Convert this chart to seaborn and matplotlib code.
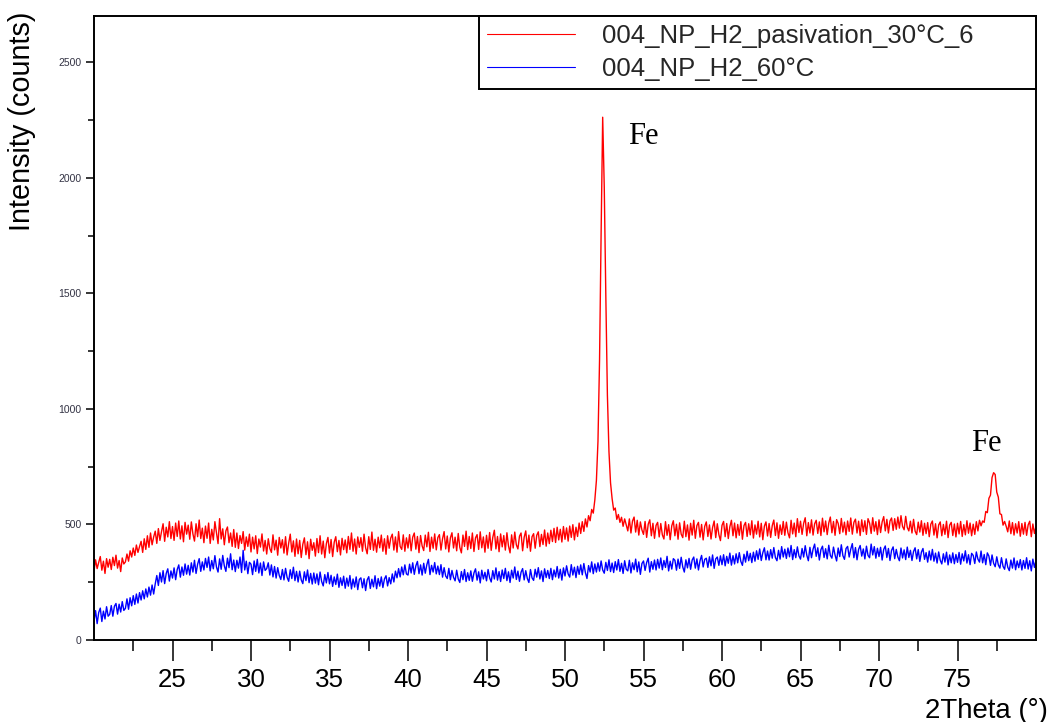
import numpy as np
import matplotlib
matplotlib.use("Agg")
import matplotlib.pyplot as plt
import seaborn as sns

# ---------------- data ----------------
two_theta_start = 20.0
two_theta_step = 0.1

red_label = "004_NP_H2_pasivation_30°C_6"
blue_label = "004_NP_H2_60°C"

red_counts = [
    298, 347, 309, 336, 361, 302, 341, 288, 352, 315,
    349, 305, 358, 322, 367, 311, 344, 296, 355, 329,
    338, 372, 341, 386, 359, 398, 366, 411, 379, 404,
    427, 379, 438, 392, 451, 401, 463, 412, 446, 471,
    418, 482, 431, 469, 503, 427, 488, 446, 512, 439,
    491, 431, 506, 448, 515, 437, 494, 425, 509, 458,
    497, 436, 511, 459, 428, 503, 447, 519, 439, 484,
    421, 493, 440, 506, 418, 479, 433, 512, 466, 417,
    525, 437, 481, 412, 472, 489, 421, 463, 405, 478,
    401, 463, 396, 452, 418, 469, 389, 446, 405, 458,
    381, 445, 394, 451, 374, 437, 402, 459, 385, 431,
    372, 438, 396, 379, 455, 390, 432, 367, 444, 398,
    434, 376, 447, 368, 419, 458, 381, 429, 362, 437,
    373, 431, 357, 414, 442, 369, 425, 352, 436, 388,
    421, 363, 439, 378, 451, 372, 428, 356, 417, 444,
    376, 435, 361, 423, 447, 382, 431, 368, 440, 391,
    433, 377, 448, 392, 463, 384, 437, 372, 446, 401,
    443, 384, 458, 399, 373, 447, 392, 467, 388, 436,
    380, 445, 399, 454, 384, 438, 371, 451, 397, 441,
    458, 389, 446, 380, 469, 405, 392, 455, 384, 442,
    398, 456, 386, 445, 463, 393, 448, 378, 452, 407,
    387, 454, 403, 466, 383, 445, 397, 459, 390, 443,
    456, 389, 438, 469, 394, 450, 381, 442, 464, 398,
    445, 386, 461, 401, 377, 454, 405, 471, 391, 448,
    396, 463, 383, 442, 456, 392, 468, 399, 446, 380,
    453, 397, 465, 388, 444, 475, 394, 448, 382, 459,
    403, 452, 389, 464, 407, 377, 455, 398, 467, 412,
    394, 449, 463, 386, 445, 472, 399, 454, 384, 447,
    460, 397, 453, 468, 404, 457, 413, 476, 406, 463,
    417, 475, 426, 483, 422, 488, 433, 479, 424, 491,
    436, 485, 428, 493, 444, 499, 433, 488, 448, 506,
    461, 512, 470, 524, 489, 538, 516, 565, 549, 606,
    690, 860, 1210, 1760, 2262, 1960, 1490, 1060, 815, 680,
    612, 562, 571, 522, 543, 509, 531, 492, 524, 498,
    472, 524, 463, 515, 532, 467, 518, 454, 511, 476,
    457, 513, 444, 501, 520, 451, 505, 440, 496, 509,
    446, 504, 455, 437, 512, 453, 499, 434, 494, 516,
    451, 501, 436, 507, 458, 443, 514, 447, 498, 432,
    505, 454, 518, 440, 495, 509, 445, 500, 433, 492,
    511, 448, 498, 437, 487, 515, 443, 503, 456, 430,
    496, 513, 447, 504, 439, 490, 518, 451, 506, 442,
    500, 453, 512, 436, 495, 509, 448, 503, 455, 516,
    441, 498, 458, 514, 446, 505, 434, 493, 511, 450,
    504, 444, 495, 519, 452, 507, 440, 498, 457, 513,
    453, 510, 464, 442, 518, 459, 506, 447, 525, 465,
    514, 457, 505, 529, 451, 508, 463, 520, 454, 503,
    518, 461, 511, 452, 527, 468, 515, 456, 506, 532,
    464, 513, 453, 521, 504, 460, 526, 467, 510, 455,
    515, 470, 528, 458, 509, 523, 463, 514, 452, 520,
    469, 516, 457, 525, 506, 461, 529, 471, 512, 456,
    520, 465, 511, 534, 472, 522, 463, 515, 528, 474,
    525, 479, 532, 484, 538, 491, 477, 535, 487, 472,
    514, 463, 522, 471, 456, 510, 467, 516, 453, 505,
    460, 508, 447, 501, 515, 454, 503, 442, 498, 511,
    451, 500, 457, 514, 443, 497, 509, 452, 502, 446,
    505, 459, 513, 448, 499, 455, 516, 462, 506, 451,
    501, 457, 512, 472, 518, 494, 515, 509, 556, 551,
    613, 627, 703, 724, 716, 640, 618, 546, 543, 497,
    513, 492, 468, 515, 460, 508, 454, 503, 463, 512,
    449, 504, 458, 509, 453, 498, 514, 447, 502, 461,
    492,
]

blue_counts = [
    82, 127, 71, 119, 138, 80, 125, 91, 144, 103,
    111, 149, 103, 146, 158, 112, 155, 121, 166, 128,
    137, 178, 133, 183, 148, 192, 154, 199, 160, 205,
    173, 213, 178, 221, 186, 229, 194, 238, 199, 243,
    279, 236, 291, 251, 300, 244, 288, 308, 255, 299,
    268, 312, 261, 305, 325, 272, 316, 280, 329, 285,
    323, 281, 334, 294, 345, 288, 328, 352, 297, 338,
    303, 353, 314, 359, 299, 344, 308, 365, 316, 294,
    351, 306, 366, 321, 297, 354, 313, 373, 304, 346,
    296, 345, 311, 359, 292, 388, 303, 341, 287, 336,
    328, 283, 342, 297, 349, 290, 333, 279, 338, 301,
    309, 334, 281, 325, 273, 318, 268, 313, 279, 262,
    305, 260, 310, 271, 254, 304, 266, 315, 257, 297,
    251, 298, 260, 244, 295, 257, 303, 248, 288, 242,
    290, 246, 286, 239, 294, 253, 234, 283, 247, 292,
    243, 280, 232, 273, 240, 285, 228, 269, 236, 276,
    224, 268, 233, 279, 221, 264, 229, 273, 218, 262,
    269, 226, 265, 214, 260, 274, 223, 263, 230, 278,
    222, 266, 233, 273, 227, 264, 278, 234, 270, 243,
    286, 251, 298, 269, 309, 273, 316, 282, 325, 286,
    281, 328, 290, 334, 284, 321, 340, 287, 325, 281,
    332, 289, 326, 349, 283, 323, 294, 335, 286, 320,
    283, 326, 272, 313, 277, 266, 310, 261, 301, 271,
    256, 302, 264, 249, 296, 261, 305, 253, 291, 258,
    299, 254, 290, 308, 259, 295, 247, 302, 264, 293,
    256, 305, 269, 251, 300, 264, 312, 259, 296, 253,
    303, 266, 310, 257, 295, 249, 302, 268, 316, 262,
    298, 254, 293, 309, 260, 300, 266, 249, 305, 269,
    258, 306, 272, 313, 264, 299, 253, 308, 270, 301,
    266, 310, 261, 303, 273, 318, 268, 306, 259, 312,
    277, 321, 286, 272, 326, 281, 315, 270, 319, 284,
    325, 282, 331, 291, 266, 322, 294, 338, 287, 329,
    294, 334, 298, 342, 303, 289, 336, 301, 347, 296,
    333, 292, 339, 303, 348, 297, 332, 288, 343, 306,
    299, 345, 290, 334, 304, 350, 295, 338, 284, 331,
    342, 301, 335, 354, 294, 339, 306, 346, 303, 349,
    311, 355, 304, 344, 314, 362, 299, 341, 307, 352,
    345, 302, 350, 310, 358, 316, 294, 347, 312, 353,
    306, 346, 359, 311, 351, 303, 343, 366, 316, 349,
    354, 314, 360, 321, 368, 310, 351, 359, 323, 364,
    326, 369, 321, 362, 332, 376, 324, 365, 329, 373,
    334, 378, 340, 323, 371, 337, 384, 343, 375, 335,
    380, 341, 386, 349, 394, 344, 378, 399, 347, 385,
    346, 391, 354, 400, 357, 343, 388, 350, 404, 359,
    393, 353, 398, 360, 409, 348, 391, 356, 403, 364,
    350, 396, 359, 408, 367, 343, 401, 356, 393, 415,
    362, 399, 346, 391, 406, 357, 395, 351, 410, 366,
    354, 402, 368, 342, 398, 361, 412, 365, 349, 396,
    405, 359, 393, 417, 356, 400, 347, 392, 409, 363,
    394, 351, 406, 366, 356, 415, 368, 404, 354, 397,
    361, 401, 346, 392, 407, 357, 396, 344, 388, 403,
    352, 392, 359, 343, 398, 355, 390, 348, 402, 357,
    388, 344, 383, 399, 351, 391, 340, 380, 396, 349,
    378, 337, 385, 346, 392, 341, 376, 333, 381, 345,
    329, 373, 337, 380, 325, 368, 334, 377, 330, 370,
    336, 379, 328, 373, 342, 386, 333, 369, 326, 375,
    366, 331, 381, 350, 337, 385, 334, 370, 326, 377,
    363, 323, 368, 332, 317, 360, 325, 311, 356, 319,
    306, 351, 315, 300, 346, 311, 355, 304, 342, 313,
    348, 303, 344, 310, 356, 307, 343, 299, 350, 314,
    345,
]

assert len(red_counts) == 601, len(red_counts)
assert len(blue_counts) == 601, len(blue_counts)
two_theta = np.round(two_theta_start + two_theta_step * np.arange(len(red_counts)), 1)

peak_labels = ["Fe", "Fe"]
peak_label_x = [54.97, 76.82]
peak_label_y = [2177, 849]

x_major = [25, 30, 35, 40, 45, 50, 55, 60, 65, 70, 75]
x_minor = [22.5, 27.5, 32.5, 37.5, 42.5, 47.5, 52.5, 57.5, 62.5, 67.5, 72.5, 77.5]
y_major = [0, 500, 1000, 1500, 2000, 2500]
y_minor = [250, 750, 1250, 1750, 2250]

# ---------------- style ----------------
sns.set_theme(style="white")
plt.rcParams["font.family"] = ["Liberation Sans", "DejaVu Sans"]

fig = plt.figure(figsize=(10.53, 7.22), dpi=100)
ax = fig.add_axes([0.08927, 0.11357, 0.89459, 0.86427])

sns.lineplot(x=two_theta, y=red_counts, color="#ff0000", linewidth=1.0,
             label=red_label, ax=ax, sort=False)
sns.lineplot(x=two_theta, y=blue_counts, color="#0000ff", linewidth=1.0,
             label=blue_label, ax=ax, sort=False)

ax.set_xlim(20, 80)
ax.set_ylim(0, 2700)

ax.set_xticks(x_major)
ax.set_xticks(x_minor, minor=True)
ax.set_yticks(y_major)
ax.set_yticks(y_minor, minor=True)
ax.set_xticklabels([str(v) for v in x_major])
ax.set_yticklabels([str(v) for v in y_major])

ax.tick_params(axis="x", which="major", direction="out", length=15, width=1.1,
               labelsize=18.6, pad=5, colors="black", bottom=True)
ax.tick_params(axis="x", which="minor", direction="out", length=8, width=1.1,
               bottom=True, colors="black")
ax.tick_params(axis="y", which="major", direction="out", length=5.8, width=1.1,
               labelsize=7.5, pad=3, left=True, color="black", labelcolor="#333344")
ax.tick_params(axis="y", which="minor", direction="out", length=4.3, width=1.1,
               left=True, color="black")

for s in ax.spines.values():
    s.set_visible(True)
    s.set_color("black")
    s.set_linewidth(1.4)

ax.set_xlabel("")
ax.set_ylabel("")
ax.grid(False)

fig.text(1048 / 1053, 4 / 722, "2Theta (°)", ha="right", va="baseline",
         fontsize=19.9, color="black")
fig.text(22.5 / 1053, 1 - 121 / 722, "Intensity (counts)", rotation=90,
         ha="center", va="center", fontsize=20.8, color="black")

for lab, px, py in zip(peak_labels, peak_label_x, peak_label_y):
    ax.text(px, py, lab, ha="center", va="center", fontsize=22,
            family=["Liberation Serif", "DejaVu Serif"], color="black")

leg = ax.legend(loc="upper left", bbox_to_anchor=(0.4087, 0.0, 0.5913, 1.0),
                mode="expand", borderaxespad=0, fontsize=18.5,
                handlelength=3.42, handletextpad=1.05, labelspacing=0.37,
                borderpad=0.3, fancybox=False, framealpha=1, edgecolor="black")
leg.get_frame().set_linewidth(1.4)
for line in leg.get_lines():
    line.set_linewidth(0.8)

fig.savefig("out.png", dpi=100)
